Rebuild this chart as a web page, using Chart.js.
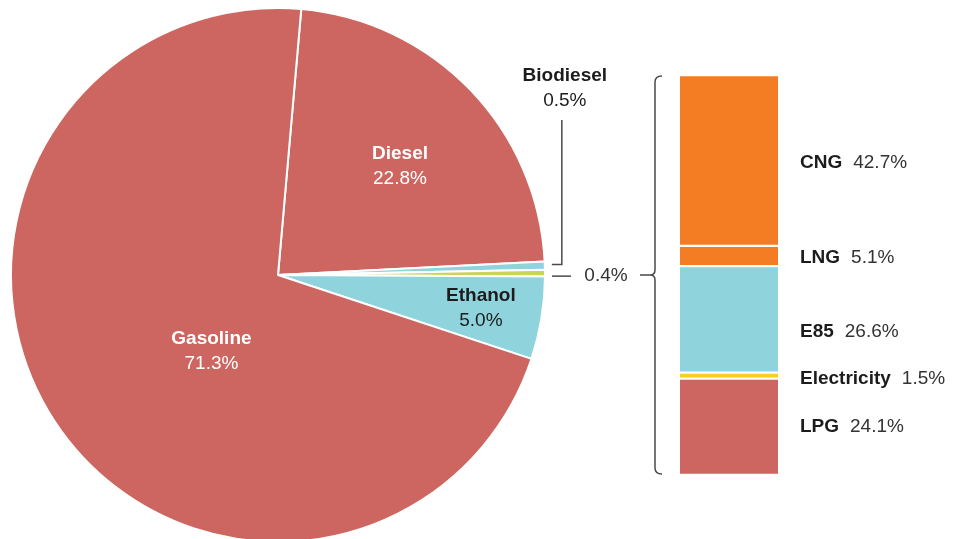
<!DOCTYPE html>
<html>
<head>
<meta charset="utf-8">
<script src="https://cdn.jsdelivr.net/npm/chart.js@4"></script>
<style>
    html, body { margin: 0; padding: 0; background: #fff; overflow: hidden; }
    body { width: 953px; height: 539px; position: relative; }
    .layer { position: absolute; left: 0; top: 0; width: 953px; }
</style>
</head>
<body>
<div class="layer" style="height:545px"><canvas id="pieChart"></canvas></div>
<div class="layer" style="height:539px"><canvas id="barChart"></canvas></div>
<script>
    // fuel share (pie)
    var fuels = ['Diesel', 'Biodiesel', 'Other', 'Ethanol', 'Gasoline'];
    var fuel_shares = [22.8, 0.5, 0.4, 5.0, 71.3];
    var fuel_colors = ['#cd6660', '#8fd3dd', '#c8d55c', '#8fd3dd', '#cd6660'];

    // breakdown of the 0.4% "other" slice (bar, bottom to top)
    var others = ['LPG', 'Electricity', 'E85', 'LNG', 'CNG'];
    var other_shares = [24.1, 1.5, 26.6, 5.1, 42.7];
    var other_colors = ['#cd6660', '#f5d020', '#8fd3dd', '#f47c22', '#f47c22'];

    var FONT = '"Liberation Sans", Arial, Helvetica, sans-serif';
    var INK = '#1c1c1c';
    var LINE = '#4a4a4a';

    function pct(v) { return v.toFixed(1) + '%'; }

    function twoLine(ctx, x, y, name, value, color) {
        ctx.textAlign = 'center';
        ctx.textBaseline = 'middle';
        ctx.fillStyle = color;
        ctx.font = 'bold 19px ' + FONT;
        ctx.fillText(name, x, y - 13);
        ctx.font = '19px ' + FONT;
        ctx.fillText(value, x, y + 12);
    }

    // label placement inside the pie (r = fraction of radius, angle from top)
    var inside = {
        'Diesel':   { r: 0.61, angle: 48.5, color: '#ffffff' },
        'Gasoline': { r: 0.38, angle: 221, color: '#ffffff' },
        'Ethanol':  { r: 0.77, color: INK }
    };

    var pieLabels = {
        id: 'pieLabels',
        afterDatasetsDraw: function(chart) {
            var ctx = chart.ctx;
            var arcs = chart.getDatasetMeta(0).data;
            ctx.save();
            arcs.forEach(function(arc, i) {
                var name = fuels[i];
                var mid = (arc.startAngle + arc.endAngle) / 2;
                var R = arc.outerRadius;
                if (inside[name]) {
                    var p = inside[name];
                    var a = p.angle !== undefined ? (p.angle - 90) * Math.PI / 180 : mid;
                    twoLine(ctx, arc.x + Math.cos(a) * R * p.r, arc.y + Math.sin(a) * R * p.r,
                            name, pct(fuel_shares[i]), p.color);
                    return;
                }
                var ex = arc.x + Math.cos(mid) * R;
                var ey = arc.y + Math.sin(mid) * R;
                ctx.strokeStyle = LINE;
                ctx.lineWidth = 1.5;
                if (name === 'Biodiesel') {
                    ctx.beginPath();
                    ctx.moveTo(ex + 7, ey - 1);
                    ctx.lineTo(ex + 17, ey - 1);
                    ctx.lineTo(ex + 17, 120);
                    ctx.stroke();
                    twoLine(ctx, ex + 20, 89, name, pct(fuel_shares[i]), INK);
                } else {
                    ctx.beginPath();
                    ctx.moveTo(ex + 7, ey + 3);
                    ctx.lineTo(ex + 26, ey + 3);
                    ctx.stroke();
                    ctx.font = '19px ' + FONT;
                    ctx.fillStyle = '#333';
                    ctx.textAlign = 'center';
                    ctx.textBaseline = 'middle';
                    ctx.fillText(pct(fuel_shares[i]), ex + 61, ey + 3);
                }
            });
            ctx.restore();
        }
    };

    var ctxPie = document.getElementById('pieChart').getContext('2d');
    var pieChart = new Chart(ctxPie, {
        type: 'pie',
        data: {
            labels: fuels,
            datasets: [{
                data: fuel_shares,
                backgroundColor: fuel_colors,
                borderColor: '#ffffff',
                borderWidth: 2
            }]
        },
        options: {
            responsive: true,
            maintainAspectRatio: false,
            animation: false,
            rotation: 5,
            layout: { padding: { left: 10, top: 7, right: 407, bottom: 2 } },
            plugins: { legend: { display: false }, tooltip: { enabled: false } }
        },
        plugins: [pieLabels]
    });

    // small y nudges for the bar labels
    var barLabelShift = { 'CNG': 2, 'LNG': 2, 'E85': 12, 'Electricity': 3, 'LPG': 0 };

    var barLabels = {
        id: 'barLabels',
        afterDatasetsDraw: function(chart) {
            var ctx = chart.ctx;
            var area = chart.chartArea;
            ctx.save();
            chart.data.datasets.forEach(function(ds, i) {
                var el = chart.getDatasetMeta(i).data[0];
                var y = (el.y + el.base) / 2 + (barLabelShift[others[i]] || 0);
                var x = el.x + el.width / 2 + 22;
                ctx.textAlign = 'left';
                ctx.textBaseline = 'middle';
                ctx.fillStyle = INK;
                ctx.font = 'bold 19px ' + FONT;
                ctx.fillText(others[i], x, y);
                var w = ctx.measureText(others[i]).width;
                ctx.font = '19px ' + FONT;
                ctx.fillStyle = '#333';
                ctx.fillText(pct(other_shares[i]), x + w + 11, y);
            });

            // curly bracket left of the bar
            var bx = area.left - 25, top = area.top + 1, bot = area.bottom - 1;
            var mid = (top + bot) / 2;
            ctx.strokeStyle = LINE;
            ctx.lineWidth = 1.5;
            ctx.beginPath();
            ctx.moveTo(bx + 7, top);
            ctx.quadraticCurveTo(bx, top, bx, top + 6);
            ctx.lineTo(bx, mid - 5);
            ctx.quadraticCurveTo(bx, mid, bx - 5, mid);
            ctx.quadraticCurveTo(bx, mid, bx, mid + 5);
            ctx.lineTo(bx, bot - 6);
            ctx.quadraticCurveTo(bx, bot, bx + 7, bot);
            ctx.moveTo(bx - 15, mid);
            ctx.lineTo(bx - 5, mid);
            ctx.stroke();
            ctx.restore();
        }
    };

    var ctxBar = document.getElementById('barChart').getContext('2d');
    var barChart = new Chart(ctxBar, {
        type: 'bar',
        data: {
            labels: ['Other'],
            datasets: others.map(function(name, i) {
                return {
                    label: name,
                    data: [other_shares[i]],
                    backgroundColor: other_colors[i],
                    borderColor: '#ffffff',
                    borderWidth: { top: 1.5, bottom: 1.5, left: 0, right: 0 },
                    borderSkipped: false,
                    barPercentage: 1,
                    categoryPercentage: 1
                };
            })
        },
        options: {
            responsive: true,
            maintainAspectRatio: false,
            animation: false,
            layout: { padding: { left: 680, right: 175, top: 75, bottom: 64 } },
            plugins: { legend: { display: false }, tooltip: { enabled: false } },
            scales: {
                x: { stacked: true, display: false },
                y: { stacked: true, display: false, min: 0, max: 100 }
            }
        },
        plugins: [barLabels]
    });
</script>
</body>
</html>
